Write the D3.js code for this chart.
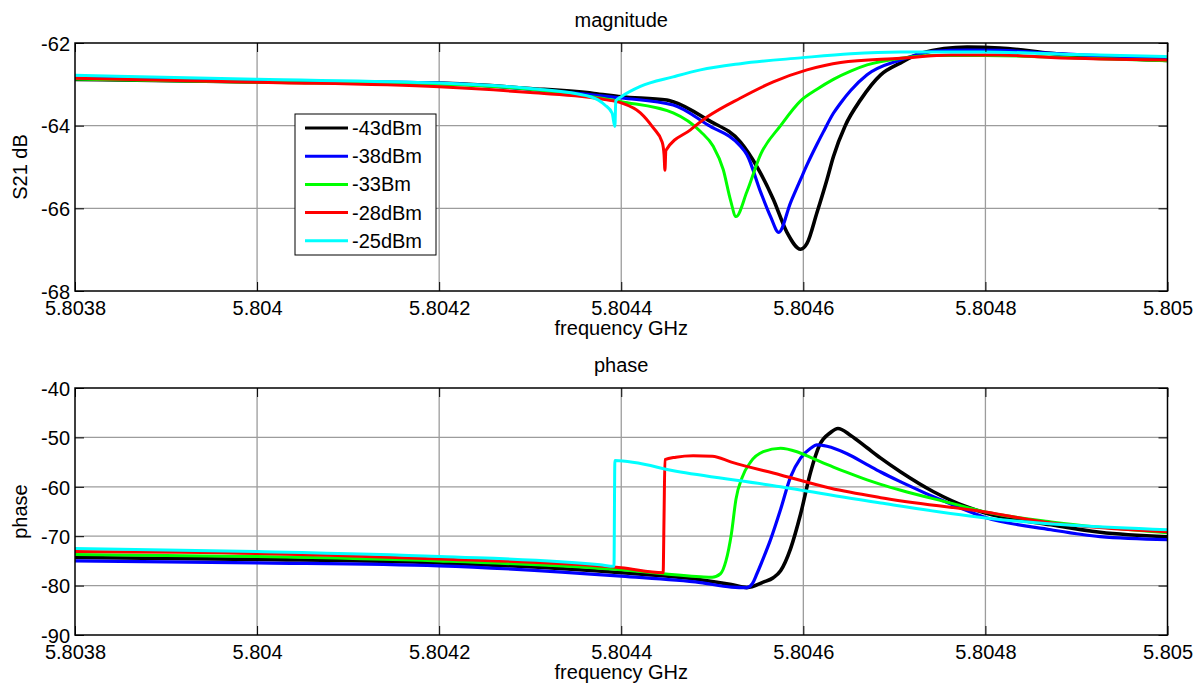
<!DOCTYPE html>
<html>
<head>
<meta charset="utf-8">
<script src="https://cdn.jsdelivr.net/npm/d3@7/dist/d3.min.js"></script>
<style>
  body { margin: 0; background: #fff; }
  svg { display: block; font-family: "Liberation Sans", Arial, sans-serif; }
  .tick line { stroke: #000; }
  .domain { display: none; }
  .tick text { font-size: 20px; fill: #000; }
</style>
</head>
<body>
<div id="chart-area"></div>
<script>
// ---- data (frequency GHz, value) ----
var seriesNames  = ["-43dBm", "-38dBm", "-33Bm", "-28dBm", "-25dBm"];
var seriesColors = ["#000000", "#0000ff", "#00ff00", "#ff0000", "#00ffff"];

var freqTicks  = [5.8038, 5.804, 5.8042, 5.8044, 5.8046, 5.8048, 5.805];
var magTicks   = [-68, -66, -64, -62];
var phaseTicks = [-90, -80, -70, -60, -50, -40];

var mag43 = [[5.8038, -62.88], [5.8040, -62.94], [5.8042, -62.97], [5.80430, -63.1], [5.80437, -63.22],
  [5.80440, -63.3], [5.80445, -63.38], [5.804457, -63.42], [5.804495, -63.86], [5.804531, -64.4],
  [5.804549, -64.99], [5.804567, -65.78], [5.804582, -66.58], [5.804597, -66.99], [5.804604, -66.85],
  [5.804615, -66.1], [5.804626, -65.3], [5.804633, -64.75], [5.804646, -64.0], [5.804663, -63.37],
  [5.804685, -62.77], [5.804707, -62.48], [5.804729, -62.25], [5.80478, -62.1], [5.804816, -62.12],
  [5.804872, -62.25], [5.804926, -62.35], [5.8050, -62.42]];
var mag38 = [[5.8038, -62.85], [5.8040, -62.92], [5.8042, -62.97], [5.80430, -63.12], [5.80440, -63.33],
  [5.804457, -63.5], [5.804495, -63.98], [5.804531, -64.5], [5.804538, -64.7], [5.804553, -65.6],
  [5.804564, -66.2], [5.804573, -66.58], [5.804586, -65.86], [5.804597, -65.3], [5.804604, -64.95],
  [5.804615, -64.45], [5.804622, -64.15], [5.804633, -63.7], [5.804641, -63.45], [5.804652, -63.15],
  [5.80467, -62.77], [5.804707, -62.41], [5.804743, -62.2], [5.80478, -62.17], [5.804816, -62.18],
  [5.804872, -62.25], [5.8050, -62.37]];
var mag33 = [[5.8038, -62.87], [5.8040, -62.95], [5.8042, -63.0], [5.80430, -63.12], [5.80440, -63.42],
  [5.804457, -63.69], [5.804487, -64.14], [5.804501, -64.5], [5.804512, -65.06], [5.80452, -65.8],
  [5.804526, -66.2], [5.804538, -65.6], [5.804553, -64.7], [5.804575, -64.0], [5.804597, -63.4],
  [5.804615, -63.12], [5.804633, -62.88], [5.804652, -62.68], [5.80467, -62.53], [5.804707, -62.37],
  [5.80474, -62.3], [5.8048, -62.3], [5.8049, -62.36], [5.8050, -62.43]];
var mag28 = [[5.8038, -62.85], [5.8040, -62.95], [5.8042, -63.06], [5.80430, -63.2], [5.804382, -63.37],
  [5.80440, -63.45], [5.804421, -63.69], [5.804435, -64.05], [5.804445, -64.4], [5.804447, -64.7],
  [5.804448, -65.08], [5.804449, -64.6], [5.804476, -64.1], [5.804495, -63.78], [5.804531, -63.33],
  [5.804567, -62.94], [5.804604, -62.65], [5.804641, -62.47], [5.804707, -62.37], [5.804762, -62.29],
  [5.804816, -62.29], [5.804872, -62.35], [5.8050, -62.41]];
var mag25 = [[5.8038, -62.78], [5.8040, -62.88], [5.8042, -62.97], [5.80430, -63.1], [5.804366, -63.3],
  [5.804382, -63.5], [5.80439, -63.7], [5.804393, -64.02], [5.804394, -63.4], [5.80440, -63.3],
  [5.804421, -63.05], [5.804457, -62.82], [5.804487, -62.65], [5.804531, -62.5], [5.804597, -62.36],
  [5.804652, -62.26], [5.804707, -62.22], [5.8048, -62.22], [5.8049, -62.28], [5.8050, -62.33]];

var phase43 = [[5.8038, -74.3], [5.8040, -74.7], [5.8042, -75.4], [5.8044, -77.4], [5.804487, -78.8],
  [5.804521, -79.8], [5.804538, -80.4], [5.804556, -79.3], [5.804567, -78.4], [5.804575, -77.0],
  [5.804586, -72.5], [5.804597, -65.5], [5.804608, -57.0], [5.804618, -51.5], [5.80463, -49.0],
  [5.804638, -48.2], [5.804652, -49.6], [5.80467, -52.1], [5.804685, -54.2], [5.804707, -57.0],
  [5.804743, -61.0], [5.80478, -64.1], [5.8048, -65.3], [5.804872, -67.7], [5.804926, -69.2],
  [5.8050, -70.1]];
var phase38 = [[5.8038, -75.0], [5.8040, -75.4], [5.8042, -76.0], [5.8044, -78.1], [5.804487, -79.4],
  [5.804521, -80.3], [5.804538, -80.4], [5.804544, -79.6], [5.804549, -77.6], [5.804556, -74.5],
  [5.804564, -70.7], [5.804575, -64.6], [5.804586, -58.0], [5.804597, -54.2], [5.804608, -52.2],
  [5.804615, -51.5], [5.804626, -51.8], [5.804648, -53.3], [5.80467, -55.5], [5.804685, -57.0],
  [5.804707, -59.0], [5.804762, -63.5], [5.8048, -66.2], [5.804872, -68.7], [5.804926, -70.1],
  [5.8050, -70.7]];
var phase33 = [[5.8038, -73.7], [5.8040, -74.1], [5.8042, -75.0], [5.8044, -76.8], [5.804487, -78.2],
  [5.8045, -78.3], [5.804509, -77.6], [5.804515, -75.0], [5.804521, -69.5], [5.804526, -62.5],
  [5.804533, -58.0], [5.804542, -55.0], [5.804556, -52.9], [5.804575, -52.2], [5.804593, -52.9],
  [5.804611, -54.3], [5.804633, -56.0], [5.804648, -57.1], [5.80467, -58.6], [5.804685, -59.5],
  [5.804707, -60.7], [5.804762, -63.3], [5.8048, -65.1], [5.804872, -67.1], [5.8050, -69.3]];
var phase28 = [[5.8038, -73.1], [5.8040, -73.5], [5.8042, -74.6], [5.8044, -76.4], [5.804446, -77.4],
  [5.804447, -66.0], [5.804448, -54.5], [5.80446, -54.0], [5.804479, -53.7], [5.8045, -53.8],
  [5.804521, -55.0], [5.804575, -57.6], [5.80463, -60.3], [5.804685, -62.2], [5.8048, -65.1],
  [5.804872, -67.3], [5.8050, -69.1]];
var phase25 = [[5.8038, -72.5], [5.8040, -73.1], [5.8042, -74.1], [5.804377, -75.8], [5.804392, -76.1],
  [5.804393, -54.7], [5.804465, -57.0], [5.804575, -60.0], [5.804685, -63.3], [5.8048, -66.3],
  [5.8050, -68.7]];

var magSeries   = [mag43, mag38, mag33, mag28, mag25];
var phaseSeries = [phase43, phase38, phase33, phase28, phase25];
var lineWidths  = [3.6, 3.2, 3, 3, 3];

// ---- layout ----
var W = 1202, H = 686;
var left = 75, right = 1167.5;

var svg = d3.select("#chart-area")
    .append("svg")
        .attr("width", W)
        .attr("height", H);

function drawPanel(cfg) {
    var x = d3.scaleLinear().domain([5.8038, 5.805]).range([left, right]);
    var y = d3.scaleLinear().domain(cfg.yDomain).range([cfg.bottom, cfg.top]);

    var g = svg.append("g");

    // grid
    g.selectAll(".vgrid").data(freqTicks.slice(1, -1)).enter()
        .append("line")
            .attr("x1", d => x(d)).attr("x2", d => x(d))
            .attr("y1", cfg.top).attr("y2", cfg.bottom)
            .attr("stroke", "#9c9c9c").attr("stroke-width", 1.3);
    g.selectAll(".hgrid").data(cfg.yTicks.slice(1, -1)).enter()
        .append("line")
            .attr("x1", left).attr("x2", right)
            .attr("y1", d => y(d)).attr("y2", d => y(d))
            .attr("stroke", "#9c9c9c").attr("stroke-width", 1.3);

    // curves
    var clipId = "clip-" + cfg.name;
    g.append("clipPath").attr("id", clipId)
        .append("rect")
            .attr("x", left).attr("y", cfg.top)
            .attr("width", right - left).attr("height", cfg.bottom - cfg.top);

    var line = d3.line()
        .curve(d3.curveMonotoneX)
        .x(d => x(d[0]))
        .y(d => y(d[1]));

    g.append("g").attr("clip-path", "url(#" + clipId + ")")
        .selectAll("path")
        .data(cfg.series)
        .enter()
        .append("path")
            .attr("d", line)
            .attr("fill", "none")
            .attr("stroke", (d, i) => seriesColors[i])
            .attr("stroke-width", (d, i) => lineWidths[i])
            .attr("stroke-linejoin", "round");

    // axes, MATLAB style ticks pointing inward on all four sides
    g.append("g")
        .attr("transform", "translate(0," + cfg.bottom + ")")
        .call(d3.axisBottom(x).tickValues(freqTicks).tickFormat(d => String(d))
            .tickSizeInner(-9).tickSizeOuter(0).tickPadding(10));
    g.append("g")
        .attr("transform", "translate(0," + cfg.top + ")")
        .call(d3.axisTop(x).tickValues(freqTicks).tickFormat("").tickSizeInner(-9).tickSizeOuter(0));
    g.append("g")
        .attr("transform", "translate(" + left + ",0)")
        .call(d3.axisLeft(y).tickValues(cfg.yTicks).tickFormat(d => String(d))
            .tickSizeInner(-9).tickSizeOuter(0).tickPadding(5))
        .selectAll("text").attr("dy", "0.36em");
    g.append("g")
        .attr("transform", "translate(" + right + ",0)")
        .call(d3.axisRight(y).tickValues(cfg.yTicks).tickFormat("").tickSizeInner(-9).tickSizeOuter(0));

    g.append("rect")
        .attr("x", left).attr("y", cfg.top)
        .attr("width", right - left).attr("height", cfg.bottom - cfg.top)
        .attr("fill", "none").attr("stroke", "#000").attr("stroke-width", 1.5);

    g.append("text")
        .attr("x", (left + right) / 2).attr("y", cfg.top - 16)
        .attr("font-size", "20px").attr("text-anchor", "middle")
        .text(cfg.title);
    g.append("text")
        .attr("x", (left + right) / 2).attr("y", cfg.bottom + 44)
        .attr("font-size", "20px").attr("text-anchor", "middle")
        .text("frequency GHz");
    g.append("text")
        .attr("transform", "translate(27," + ((cfg.top + cfg.bottom) / 2) + ") rotate(-90)")
        .attr("font-size", "20px").attr("text-anchor", "middle")
        .text(cfg.yLabel);

    return g;
}

var top1 = drawPanel({ name: "mag", top: 43, bottom: 291, yDomain: [-68, -62], yTicks: magTicks,
    series: magSeries, title: "magnitude", yLabel: "S21 dB" });

drawPanel({ name: "phase", top: 388, bottom: 635, yDomain: [-90, -40], yTicks: phaseTicks,
    series: phaseSeries, title: "phase", yLabel: "phase" });

// legend
var legend = top1.append("g");
legend.append("rect")
    .attr("x", 295).attr("y", 114)
    .attr("width", 141).attr("height", 141)
    .attr("fill", "#fff").attr("stroke", "#000").attr("stroke-width", 1);

var items = legend.selectAll(".item")
    .data(seriesNames)
    .enter()
    .append("g")
        .attr("transform", (d, i) => "translate(0," + (128 + i * 28.2) + ")");
items.append("line")
    .attr("x1", 305).attr("x2", 348)
    .attr("stroke", (d, i) => seriesColors[i])
    .attr("stroke-width", 3);
items.append("text")
    .attr("x", 352).attr("y", 7)
    .attr("font-size", "20px")
    .text(d => d);
</script>
</body>
</html>
